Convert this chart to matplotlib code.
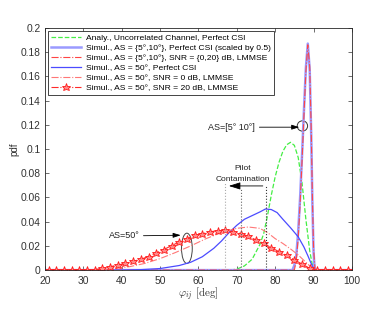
import matplotlib

matplotlib.use("Agg")
import matplotlib.pyplot as plt
from matplotlib.patches import Ellipse

plt.rcParams["font.family"] = ["Liberation Sans", "DejaVu Sans"]
plt.rcParams["mathtext.fontset"] = "cm"

# --- datos ---
# Analitico, canal no correlacionado, CSI perfecta
ana_x = [20, 68, 70, 72, 74, 76, 77, 78, 79, 80, 81, 82, 83, 84, 85, 86, 87, 88, 89, 89.7, 90, 100]
ana_y = [0, 0, 0.0008, 0.0035, 0.009, 0.021, 0.030, 0.045, 0.062, 0.077, 0.089, 0.098, 0.1035,
         0.1055, 0.103, 0.093, 0.072, 0.042, 0.016, 0.004, 0, 0]

# AS = {5,10}, CSI perfecta (escalada x0.5)
pc510_x = [20, 84.5, 85, 85.5, 86, 86.5, 87, 87.5, 88, 88.5, 89, 89.4, 89.7, 90, 90.3, 100]
pc510_y = [0, 0, 0.004, 0.012, 0.032, 0.060, 0.095, 0.132, 0.167, 0.187, 0.165, 0.110, 0.055,
           0.015, 0, 0]

# AS = {5,10}, SNR = {0,20} dB, LMMSE
lm510_x = [20, 85.0, 85.5, 86, 86.5, 87, 87.5, 88, 88.5, 89, 89.4, 89.7, 90, 90.4, 100]
lm510_y = [0, 0, 0.008, 0.026, 0.055, 0.090, 0.128, 0.164, 0.186, 0.168, 0.115, 0.060, 0.018,
           0, 0]

# AS = 50, CSI perfecta
pc50_x = [20, 40, 45, 50, 55, 58, 61, 64, 66, 68, 70, 72, 74, 76, 77.5, 79, 80.5, 82, 84, 86,
          87.5, 88.5, 89.3, 90, 90.5, 100]
pc50_y = [0, 0, 0.0004, 0.0013, 0.0038, 0.0065, 0.011, 0.018, 0.024, 0.031, 0.037, 0.042,
          0.045, 0.048, 0.0505, 0.050, 0.0475, 0.042, 0.035, 0.0275, 0.019, 0.012, 0.006,
          0.0015, 0, 0]

# AS = 50, SNR = 0 dB, LMMSE
snr0_x = [20, 30, 34, 38, 42, 46, 50, 54, 58, 62, 66, 70, 73, 76, 78, 80, 82, 84, 86, 88, 89,
          90, 91, 100]
snr0_y = [0, 0, 0.0003, 0.0012, 0.0028, 0.0055, 0.0095, 0.0145, 0.020, 0.026, 0.031, 0.0345,
          0.0356, 0.0345, 0.031, 0.026, 0.022, 0.0175, 0.0125, 0.0065, 0.0035, 0.001, 0, 0]

# AS = 50, SNR = 20 dB, LMMSE (con estrellas cada 2 grados)
snr20_x = list(range(21, 100, 2))
snr20_y = [0, 0, 0, 0, 0, 0, 0.0005, 0.0014, 0.0028, 0.0042, 0.0056, 0.0072, 0.009, 0.0112,
           0.0142, 0.017, 0.0202, 0.0232, 0.026, 0.0286, 0.030, 0.0316, 0.0326, 0.0328,
           0.0318, 0.0302, 0.0278, 0.025, 0.022, 0.0185, 0.0152, 0.0122, 0.0085, 0.005,
           0.0015, 0, 0, 0, 0, 0]

labels = [
    "Analy., Uncorrelated Channel, Perfect CSI",
    "Simul., AS = {5°,10°}, Perfect CSI (scaled by 0.5)",
    "Simul., AS = {5°,10°}, SNR = {0,20} dB, LMMSE",
    "Simul., AS = 50°, Perfect CSI",
    "Simul., AS = 50°, SNR = 0 dB, LMMSE",
    "Simul., AS = 50°, SNR = 20 dB, LMMSE",
]

fig = plt.figure(figsize=(3.74, 3.13), dpi=100)
ax = fig.add_axes([0.120, 0.137, 0.821, 0.774])

ax.plot(ana_x, ana_y, "--", color="#44ee44", lw=0.9, label=labels[0])
ax.plot(pc510_x, pc510_y, "-", color="#9a9aff", lw=1.8, label=labels[1])
ax.plot(lm510_x, lm510_y, "-.", color="#ff4444", lw=0.8, label=labels[2])
ax.plot(pc50_x, pc50_y, "-", color="#4b4bff", lw=0.9, label=labels[3])
ax.plot(snr0_x, snr0_y, "-.", color="#ff7777", lw=0.8, label=labels[4])
ax.plot(snr20_x, snr20_y, "-.", color="#ff2a2a", lw=0.8, marker="*", markersize=6.2,
        markerfacecolor="#ff8a8a", markeredgecolor="#ff1a1a", markeredgewidth=0.6,
        label=labels[5])

# lineas punteadas de contaminacion de piloto
ax.plot([67, 67], [0, 0.072], ":", color="#aaaaaa", lw=0.8)
ax.plot([71, 71], [0, 0.068], ":", color="#666666", lw=0.8)
ax.plot([77.5, 77.5], [0, 0.0695], ":", color="#333333", lw=0.8)
ax.annotate("", xy=(67.2, 0.0695), xytext=(77.5, 0.0695),
            arrowprops=dict(arrowstyle="-|>,head_length=0.7,head_width=0.22",
                            color="black", lw=0.6))
ax.text(71.6, 0.084, "Pilot", ha="center", va="center", fontsize=6, color="#222222")
ax.text(71.6, 0.0745, "Contamination", ha="center", va="center", fontsize=6, color="#222222")

# anotaciones AS
ax.add_patch(Ellipse((87.1, 0.119), 2.7, 0.0085, fill=False, ec="#333333", lw=0.7))
ax.annotate("AS=[5° 10°]", xy=(86.3, 0.118), xytext=(74.8, 0.118), ha="right", va="center",
            fontsize=6.5, color="#222222",
            arrowprops=dict(arrowstyle="-|>,head_length=0.7,head_width=0.22",
                            color="black", lw=0.6, shrinkA=1, shrinkB=0))
ax.add_patch(Ellipse((57.0, 0.018), 2.8, 0.025, fill=False, ec="#444444", lw=0.7))
ax.annotate("AS=50°", xy=(55.4, 0.0288), xytext=(44.6, 0.0282), ha="right", va="center",
            fontsize=6.5, color="#222222",
            arrowprops=dict(arrowstyle="-|>,head_length=0.7,head_width=0.22",
                            color="black", lw=0.6, shrinkA=1, shrinkB=0))

ax.set_xlim(20, 100)
ax.set_ylim(0, 0.2)
ax.set_xticks(range(20, 101, 10))
ax.set_yticks([0, 0.02, 0.04, 0.06, 0.08, 0.1, 0.12, 0.14, 0.16, 0.18, 0.2])
ax.set_yticklabels(["0", "0.02", "0.04", "0.06", "0.08", "0.1", "0.12", "0.14", "0.16",
                    "0.18", "0.2"])
ax.tick_params(direction="in", length=3, width=0.5, labelsize=7.4, colors="#333333",
               top=True, right=True)
ax.tick_params(axis="x", pad=4)
ax.tick_params(axis="y", pad=3)
for s in ax.spines.values():
    s.set_linewidth(0.6)
    s.set_color("#262626")

ax.set_xlabel(r"$\varphi_{ij}\ [\mathrm{deg}]$", fontsize=8, color="#333333", labelpad=0)
ax.set_ylabel("pdf", fontsize=7, color="#333333", labelpad=1)

leg = ax.legend(loc="upper left", fontsize=6.1, handlelength=3.6, labelspacing=0.25,
                borderpad=0.35, handletextpad=0.5, fancybox=False, framealpha=1,
                edgecolor="#262626", borderaxespad=0.35)
leg.get_frame().set_linewidth(0.6)

fig.savefig("out.png", dpi=100, facecolor="white")
